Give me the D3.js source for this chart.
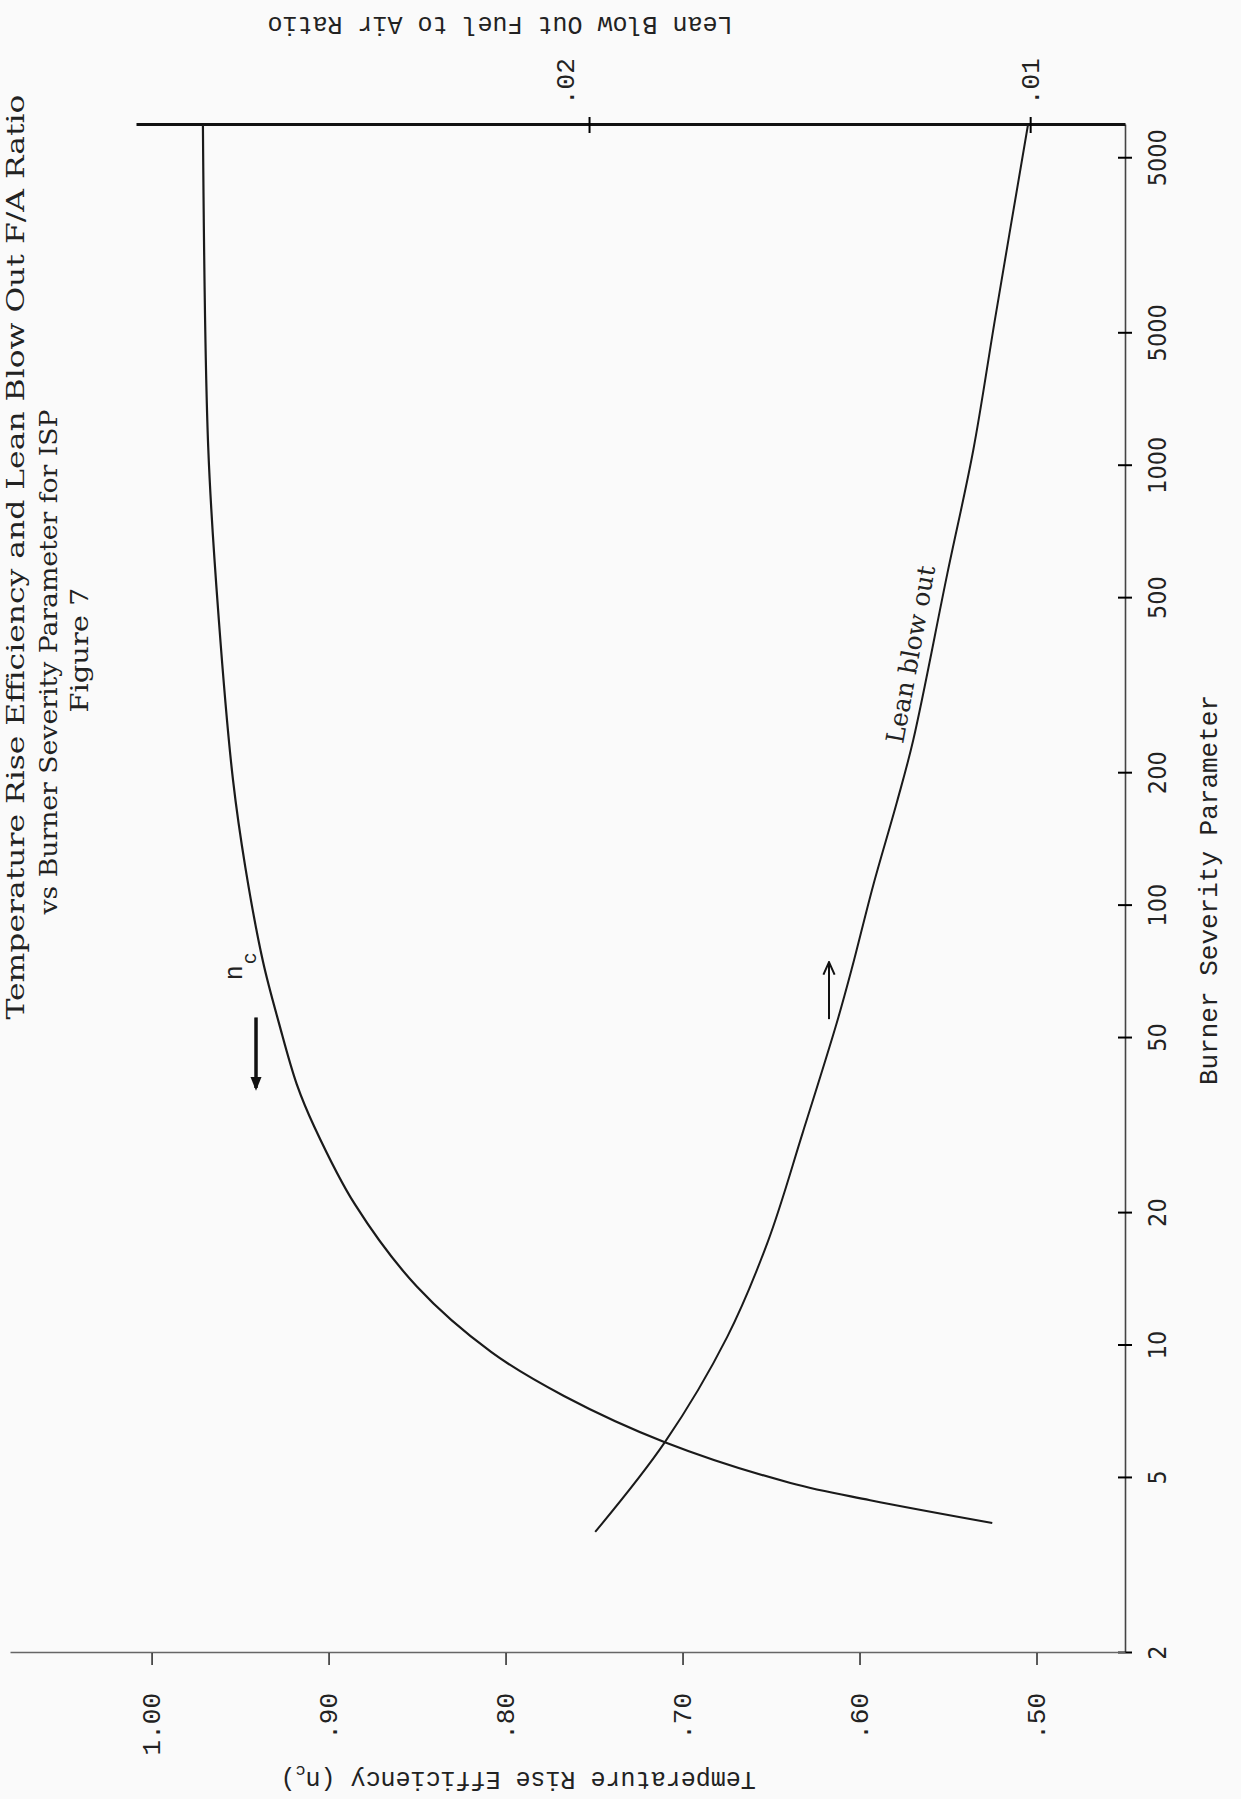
<!DOCTYPE html>
<html>
  <head>
    <meta charset="utf-8">
    <title>Figure 7 - Temperature Rise Efficiency and Lean Blow Out F/A Ratio</title>
    <script src="https://cdn.jsdelivr.net/npm/d3@7"></script>
    <style>
      body { margin: 0; background: #fafafa; }
    </style>
  </head>

  <body>
    <svg width="1241" height="1799"></svg>

    <script type="text/javascript">
      // Burner severity parameter (log axis)
      var bspTicks = [2, 5, 10, 20, 50, 100, 200, 500, 1000, 2000, 5000];
      // as printed on the figure (the 2000 tick reads "5000")
      var bspTickLabels = ["2", "5", "10", "20", "50", "100", "200", "500", "1000", "5000", "5000"];

      // left axis: temperature rise efficiency
      var effTicks = [1.0, 0.9, 0.8, 0.7, 0.6, 0.5];
      var effTickLabels = ["1.00", ".90", ".80", ".70", ".60", ".50"];

      // right axis: lean blow out fuel to air ratio
      var faTicks = [0.02, 0.01];
      var faTickLabels = [".02", ".01"];

      // n_c curve
      var effBsp = [3.95, 4.45, 4.87, 6.03, 7.68, 9.66, 13.6, 20.9, 31.4, 39.3, 54, 74.4, 122, 193, 446, 1101, 5950];
      var effValues = [0.525, 0.594, 0.639, 0.71, 0.767, 0.808, 0.85, 0.885, 0.908, 0.918, 0.928, 0.937, 0.947, 0.954, 0.962, 0.968, 0.971];

      // lean blow out curve
      var lboBsp = [3.77, 6.03, 10.45, 17.3, 30.6, 54.3, 72.1, 111, 172, 238, 567, 1084, 2174, 5950];
      var lboValues = [0.01986, 0.01828, 0.01687, 0.01594, 0.01515, 0.01438, 0.01404, 0.01356, 0.01302, 0.01265, 0.01188, 0.01129, 0.01079, 0.01005];

      var svg = d3.select("svg"),
        pageHeight = +svg.attr("height"),
        margin = { top: 136, left: 146 },
        width = 1528,
        height = 989;

      svg.append("rect").attr("width", 1241).attr("height", pageHeight).attr("fill", "#fafafa");

      var defs = svg.append("defs");
      defs.append("marker")
        .attr("id", "headSolid")
        .attr("viewBox", "0 0 10 10")
        .attr("refX", 8).attr("refY", 5)
        .attr("markerWidth", 4).attr("markerHeight", 4)
        .attr("orient", "auto")
        .append("path")
        .attr("d", "M0,1 L10,5 L0,9 Z")
        .attr("fill", "#111");
      defs.append("marker")
        .attr("id", "headOpen")
        .attr("viewBox", "0 0 10 10")
        .attr("refX", 9).attr("refY", 5)
        .attr("markerWidth", 7).attr("markerHeight", 7)
        .attr("orient", "auto")
        .append("path")
        .attr("d", "M0,1 L9,5 L0,9")
        .attr("fill", "none")
        .attr("stroke", "#111")
        .attr("stroke-width", 1.4);

      // the figure is printed sideways on the page: draw it upright and turn it
      var page = svg.append("g")
        .attr("transform", "translate(0," + pageHeight + ") rotate(-90)");
      var g = page.append("g")
        .attr("transform", "translate(" + margin.left + "," + margin.top + ")");

      var xScale = d3.scaleLog().domain([2, 5950]).range([0, width]);
      var effScale = d3.scaleLinear().domain([0.45, 1.08]).range([height, -126]);
      var faScale = d3.scaleLinear().domain([0.00785, 0.03027]).range([height, 0]);

      var serif = "'DejaVu Serif', 'Liberation Serif', serif";
      var mono = "'Liberation Mono', 'DejaVu Sans Mono', monospace";
      var narrow = "'DejaVu Sans Condensed', 'Liberation Sans Narrow', 'DejaVu Sans', sans-serif";

      // bottom axis (burner severity), ticks cross the line
      var xAxis = g.append("g")
        .attr("transform", "translate(0," + height + ")")
        .call(
          d3.axisBottom(xScale)
            .tickValues(bspTicks)
            .tickFormat(function (d, i) { return bspTickLabels[i]; })
            .tickSize(7)
            .tickSizeOuter(0)
            .tickPadding(16)
        );
      xAxis.selectAll(".tick line").attr("y1", -7).attr("stroke-width", 2);
      xAxis.select(".domain").attr("stroke", "#444").attr("stroke-width", 1.6);
      xAxis.selectAll("text").attr("font-family", narrow).attr("font-size", 25).attr("fill", "#222");

      // left axis (efficiency), line runs past 1.00
      var effAxis = g.append("g")
        .call(
          d3.axisLeft(effScale)
            .tickValues(effTicks)
            .tickFormat(function (d, i) { return effTickLabels[i]; })
            .tickSize(12)
            .tickSizeOuter(0)
            .tickPadding(28)
        );
      effAxis.selectAll(".tick line").attr("stroke", "#333").attr("stroke-width", 1.6);
      effAxis.select(".domain").attr("stroke", "#666").attr("stroke-width", 1.6);
      effAxis.selectAll("text").attr("font-family", mono).attr("font-size", 26).attr("fill", "#222");

      // right axis (fuel to air ratio)
      var faAxis = g.append("g")
        .attr("transform", "translate(" + width + ",0)")
        .call(
          d3.axisRight(faScale)
            .tickValues(faTicks)
            .tickFormat(function (d, i) { return faTickLabels[i]; })
            .tickSize(8)
            .tickSizeOuter(0)
            .tickPadding(12)
        );
      faAxis.selectAll(".tick line").attr("x1", -8).attr("stroke-width", 2);
      faAxis.select(".domain").attr("stroke", "#111").attr("stroke-width", 3);
      faAxis.selectAll("text").attr("font-family", mono).attr("font-size", 26).attr("fill", "#222");
      // the ".02" label is typed a little off its tick on the original
      faAxis.selectAll(".tick text")
        .filter(function (d) { return d === 0.02; })
        .attr("dy", "-0.6em");

      var effData = effBsp.map(function (b, i) { return { bsp: b, v: effValues[i] }; });
      var lboData = lboBsp.map(function (b, i) { return { bsp: b, v: lboValues[i] }; });

      var effLine = d3.line()
        .x(function (d) { return xScale(d.bsp); })
        .y(function (d) { return effScale(d.v); })
        .curve(d3.curveCatmullRom.alpha(0.5));

      var lboLine = d3.line()
        .x(function (d) { return xScale(d.bsp); })
        .y(function (d) { return faScale(d.v); })
        .curve(d3.curveCatmullRom.alpha(0.5));

      g.append("path")
        .attr("fill", "none")
        .attr("stroke", "#1a1a1a")
        .attr("stroke-width", 2.2)
        .attr("stroke-linejoin", "round")
        .attr("d", effLine(effData));

      g.append("path")
        .attr("fill", "none")
        .attr("stroke", "#1a1a1a")
        .attr("stroke-width", 2)
        .attr("stroke-linejoin", "round")
        .attr("d", lboLine(lboData));

      // arrows pointing to the axis each curve uses
      g.append("line")
        .attr("x1", xScale(55.7)).attr("x2", xScale(38.5))
        .attr("y1", effScale(0.941)).attr("y2", effScale(0.941))
        .attr("stroke", "#111").attr("stroke-width", 3.5)
        .attr("marker-end", "url(#headSolid)");

      g.append("line")
        .attr("x1", xScale(55.2)).attr("x2", xScale(74.4))
        .attr("y1", faScale(0.01456)).attr("y2", faScale(0.01456))
        .attr("stroke", "#111").attr("stroke-width", 2)
        .attr("marker-end", "url(#headOpen)");

      // curve labels
      var nc = g.append("text")
        .attr("x", xScale(67.7))
        .attr("y", effScale(0.949))
        .attr("font-family", mono)
        .attr("font-size", 25)
        .attr("fill", "#222")
        .text("n");
      nc.append("tspan").attr("dx", 1).attr("dy", 14).attr("font-size", 20).text("c");

      g.append("text")
        .attr("transform", "translate(" + xScale(232.6) + "," + faScale(0.01288) + ") rotate(10.3)")
        .attr("font-family", serif)
        .attr("font-size", 25)
        .attr("fill", "#222")
        .text("Lean blow out");

      // axis titles
      var effTitle = g.append("text")
        .attr("transform", "translate(-119,382) rotate(-90)")
        .attr("text-anchor", "middle")
        .attr("font-family", mono)
        .attr("font-size", 25)
        .attr("fill", "#222")
        .text("Temperature Rise Efficiency (n");
      effTitle.append("tspan").attr("dy", 6).attr("font-size", 17).text("c");
      effTitle.append("tspan").attr("dy", -6).text(")");

      g.append("text")
        .attr("transform", "translate(" + (width + 108) + ",364) rotate(-90)")
        .attr("text-anchor", "middle")
        .attr("font-family", mono)
        .attr("font-size", 25)
        .attr("fill", "#222")
        .text("Lean Blow Out Fuel to Air Ratio");

      g.append("text")
        .attr("x", 763)
        .attr("y", height + 92)
        .attr("text-anchor", "middle")
        .attr("font-family", mono)
        .attr("font-size", 26)
        .attr("fill", "#222")
        .text("Burner Severity Parameter");

      // title block
      var titleLines = [
        "Temperature Rise Efficiency and Lean Blow Out F/A Ratio",
        "vs Burner Severity Parameter for ISP",
        "Figure 7"
      ];
      var titleX = [1096, 991, 1003];
      var titleY = [-112, -79, -48];
      var titleLen = [925, 505, 125];
      g.selectAll(".title")
        .data(titleLines)
        .enter()
        .append("text")
        .attr("class", "title")
        .attr("x", function (d, i) { return titleX[i] - titleLen[i] / 2; })
        .attr("y", function (d, i) { return titleY[i]; })
        .attr("textLength", function (d, i) { return titleLen[i]; })
        .attr("lengthAdjust", "spacingAndGlyphs")
        .attr("font-family", serif)
        .attr("font-size", 25)
        .attr("fill", "#222")
        .text(function (d) { return d; });
    </script>
  </body>
</html>
